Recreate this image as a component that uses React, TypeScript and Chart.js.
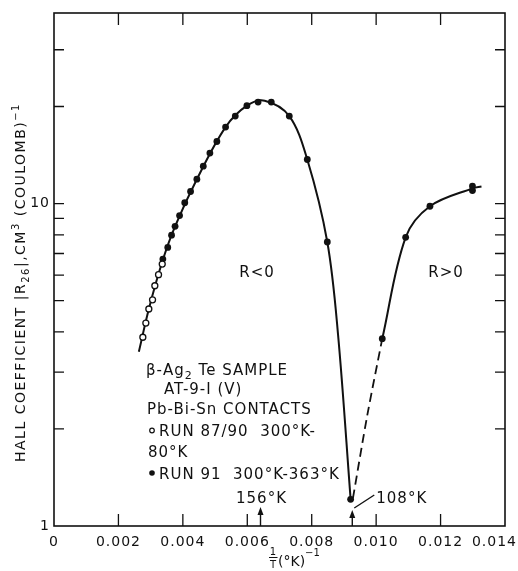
import React, { useEffect, useRef } from "react";
import { Chart, registerables } from "chart.js";

Chart.register(...registerables);

// ---- data (1/T in K^-1, |R| in cm^3/coulomb) ----
const openInvT = [0.002758, 0.002851, 0.002944, 0.003059, 0.00313, 0.003245, 0.00336];
const openR = [3.85, 4.26, 4.71, 5.03, 5.56, 6.02, 6.49];

const filledInvT = [
  0.003379, 0.003531, 0.003649, 0.003758, 0.003898, 0.004059, 0.004239, 0.004435,
  0.004634, 0.004839, 0.005056, 0.005326, 0.005627, 0.005988, 0.006335, 0.006745,
  0.007304, 0.007863, 0.008484, 0.009208, 0.01019, 0.010916, 0.01167, 0.01299, 0.01299,
];
const filledR = [
  6.73, 7.31, 7.98, 8.5, 9.18, 10.06, 10.9, 11.9,
  13.06, 14.34, 15.58, 17.27, 18.68, 20.12, 20.65, 20.65,
  18.68, 13.7, 7.6, 1.21, 3.81, 7.86, 9.81, 11.33, 10.98,
];

const curveNegInvT = [
  0.002634, 0.002944, 0.00336, 0.003758, 0.004435, 0.005326, 0.005988, 0.00654,
  0.007304, 0.007863, 0.008484, 0.008814, 0.009208,
];
const curveNegR = [
  3.47, 4.71, 6.6, 8.5, 11.9, 17.27, 20.12, 20.85,
  18.68, 13.7, 7.6, 3.96, 1.21,
];
const curvePosInvT = [0.01019, 0.010916, 0.01167, 0.01299, 0.01327];
const curvePosR = [3.81, 7.86, 9.81, 11.15, 11.3];
const dashInvT = [0.00928, 0.009727, 0.01019];
const dashR = [1.22, 2.21, 3.81];

// axes
const xTickValues = [0, 0.002, 0.004, 0.006, 0.008, 0.01, 0.012, 0.014];
const xInnerTickValues = [0.002, 0.004, 0.006, 0.008, 0.01, 0.012];
const yLabelValues = [1, 10];
const yInnerTickValues = [2, 3, 4, 5, 6, 7, 8, 9, 10, 20, 30];
const markedTemps = [156, 108];

const FONT = "'DejaVu Sans', 'Liberation Sans', sans-serif";
const INK = "#111";

const pts = (xs: number[], ys: number[]) => xs.map((x, i) => ({ x, y: ys[i] }));

type Seg = { t: string; size: number; dy?: number; bold?: boolean };

function drawRich(ctx: CanvasRenderingContext2D, x: number, y: number, segs: Seg[]) {
  let cx = x;
  for (const s of segs) {
    ctx.font = `${s.bold ? "bold " : ""}${s.size}px ${FONT}`;
    ctx.fillText(s.t, cx, y + (s.dy || 0));
    cx += ctx.measureText(s.t).width;
  }
  return cx;
}

function arrowUp(ctx: CanvasRenderingContext2D, x: number, yBase: number, yTip: number) {
  ctx.beginPath();
  ctx.moveTo(x, yBase);
  ctx.lineTo(x, yTip + 5);
  ctx.stroke();
  ctx.beginPath();
  ctx.moveTo(x, yTip);
  ctx.lineTo(x - 3, yTip + 8);
  ctx.lineTo(x + 3, yTip + 8);
  ctx.closePath();
  ctx.fill();
}

const decorPlugin = {
  id: "decor",
  beforeDraw(chart: any) {
    chart.ctx.letterSpacing = "1px";
    // keep the last x label inside the canvas, as in the original figure
    const items = chart.scales.x.getLabelItems();
    const last = items[items.length - 1];
    if (last) {
      last.options.textAlign = "right";
      last.options.translation = [chart.width - 1, last.options.translation[1]];
    }
  },
  afterDraw(chart: any) {
    const ctx: CanvasRenderingContext2D = chart.ctx;
    const a = chart.chartArea;
    const x = chart.scales.x;
    const y = chart.scales.y;
    ctx.save();
    ctx.strokeStyle = INK;
    ctx.fillStyle = INK;
    // frame
    ctx.lineWidth = 1.6;
    ctx.strokeRect(a.left, a.top, a.right - a.left, a.bottom - a.top);
    // inward ticks
    ctx.lineWidth = 1.3;
    ctx.beginPath();
    for (const v of yInnerTickValues) {
      const py = y.getPixelForValue(v);
      ctx.moveTo(a.left, py);
      ctx.lineTo(a.left + 10, py);
      ctx.moveTo(a.right - 10, py);
      ctx.lineTo(a.right, py);
    }
    for (const v of xInnerTickValues) {
      const px = x.getPixelForValue(v);
      ctx.moveTo(px, a.bottom);
      ctx.lineTo(px, a.bottom - 12);
      ctx.moveTo(px, a.top);
      ctx.lineTo(px, a.top + 12);
    }
    ctx.stroke();

    // region labels
    ctx.letterSpacing = "1px";
    ctx.textBaseline = "middle";
    ctx.textAlign = "center";
    ctx.font = `15px ${FONT}`;
    ctx.fillText("R<0", 257, 273);
    ctx.fillText("R>0", 446, 273);

    // sample legend block
    ctx.textAlign = "left";
    ctx.textBaseline = "alphabetic";
    const base = (c: number) => c + 5.5;
    drawRich(ctx, 146, base(369), [
      { t: "β-Ag", size: 15 },
      { t: "2", size: 11, dy: 4 },
      { t: " Te SAMPLE", size: 15 },
    ]);
    drawRich(ctx, 164, base(388), [{ t: "AT-9-I (V)", size: 15 }]);
    drawRich(ctx, 147, base(408), [{ t: "Pb-Bi-Sn CONTACTS", size: 15 }]);
    drawRich(ctx, 159, base(430.5), [{ t: "RUN 87/90  300°K-", size: 15 }]);
    drawRich(ctx, 148, base(451), [{ t: "80°K", size: 15 }]);
    drawRich(ctx, 159, base(473), [{ t: "RUN 91  300°K-363°K", size: 15 }]);
    ctx.lineWidth = 1.2;
    ctx.beginPath();
    ctx.arc(152, 430.5, 2.3, 0, Math.PI * 2);
    ctx.stroke();
    ctx.beginPath();
    ctx.arc(152, 473, 2.8, 0, Math.PI * 2);
    ctx.fill();

    // temperature markers
    ctx.lineWidth = 1.4;
    const p156 = x.getPixelForValue(1 / markedTemps[0]);
    const p108 = x.getPixelForValue(1 / markedTemps[1]);
    arrowUp(ctx, p156, a.bottom, a.bottom - 19);
    arrowUp(ctx, p108, a.bottom, a.bottom - 16);
    ctx.beginPath();
    ctx.moveTo(p108 + 2, a.bottom - 18);
    ctx.lineTo(p108 + 22, a.bottom - 31);
    ctx.stroke();
    ctx.font = `15px ${FONT}`;
    ctx.textAlign = "center";
    ctx.fillText(`${markedTemps[0]}°K`, p156 + 1, base(497));
    ctx.textAlign = "left";
    ctx.fillText(`${markedTemps[1]}°K`, p108 + 24, base(497));

    // x axis title: 1/T (°K)^-1
    ctx.letterSpacing = "0px";
    ctx.textAlign = "center";
    ctx.font = `10px ${FONT}`;
    ctx.fillText("1", 273, 555);
    ctx.fillText("T", 273, 568);
    ctx.lineWidth = 1;
    ctx.beginPath();
    ctx.moveTo(269, 557.5);
    ctx.lineTo(277.5, 557.5);
    ctx.stroke();
    ctx.textAlign = "left";
    drawRich(ctx, 278, 566, [
      { t: "(°K)", size: 14 },
      { t: "−1", size: 10, dy: -10 },
    ]);

    // y axis title (rotated)
    ctx.save();
    ctx.letterSpacing = "1.5px";
    ctx.translate(20, 462);
    ctx.rotate(-Math.PI / 2);
    drawRich(ctx, 0, 5, [
      { t: "HALL COEFFICIENT |R", size: 14 },
      { t: "26", size: 10, dy: 4 },
      { t: "|,CM", size: 14 },
      { t: "3", size: 10, dy: -6 },
      { t: " (COULOMB)", size: 14 },
      { t: "−1", size: 10, dy: -6 },
    ]);
    ctx.restore();

    ctx.restore();
    ctx.letterSpacing = "0px";
  },
};

export default function App() {
  const ref = useRef<HTMLCanvasElement | null>(null);
  useEffect(() => {
    if (!ref.current) return;
    const chart = new Chart(ref.current, {
      type: "scatter",
      data: {
        datasets: [
          {
            label: "RUN 87/90",
            data: pts(openInvT, openR),
            showLine: false,
            pointRadius: 3,
            pointBackgroundColor: "#fff",
            pointBorderColor: INK,
            pointBorderWidth: 1.3,
          },
          {
            label: "RUN 91",
            data: pts(filledInvT, filledR),
            showLine: false,
            pointRadius: 3.4,
            pointBackgroundColor: INK,
            pointBorderColor: INK,
            pointBorderWidth: 0,
          },
          {
            label: "R<0 fit",
            data: pts(curveNegInvT, curveNegR),
            showLine: true,
            pointRadius: 0,
            borderColor: INK,
            borderWidth: 2,
            tension: 0.35,
          },
          {
            label: "R>0 fit",
            data: pts(curvePosInvT, curvePosR),
            showLine: true,
            pointRadius: 0,
            borderColor: INK,
            borderWidth: 2,
            tension: 0.35,
          },
          {
            label: "extrapolation",
            data: pts(dashInvT, dashR),
            showLine: true,
            pointRadius: 0,
            borderColor: INK,
            borderWidth: 1.8,
            borderDash: [9, 5],
            tension: 0.3,
          },
        ],
      },
      options: {
        animation: false,
        responsive: false,
        devicePixelRatio: 1,
        layout: { padding: { top: 13, right: 13, left: 0, bottom: 0 } },
        plugins: { legend: { display: false }, tooltip: { enabled: false } },
        scales: {
          x: {
            type: "linear",
            min: 0,
            max: 0.014,
            grid: { display: false, drawTicks: false },
            border: { display: false },
            afterBuildTicks: (s: any) => {
              s.ticks = xTickValues.map((v) => ({ value: v }));
            },
            afterFit: (s: any) => {
              s.height = 45;
              s.paddingLeft = 0;
              s.paddingRight = 0;
            },
            ticks: {
              padding: 8,
              maxRotation: 0,
              autoSkip: false,
              color: INK,
              font: { family: FONT, size: 14 },
              callback: (v: any) => (v === 0 ? "0" : Number(v).toFixed(3)),
            },
          },
          y: {
            type: "logarithmic",
            min: 1,
            max: 39,
            grid: { display: false, drawTicks: false },
            border: { display: false },
            afterBuildTicks: (s: any) => {
              s.ticks = yLabelValues.map((v) => ({ value: v }));
            },
            afterFit: (s: any) => {
              s.width = 54;
              s.paddingTop = 0;
              s.paddingBottom = 0;
            },
            ticks: {
              padding: 4,
              color: INK,
              font: { family: FONT, size: 14 },
              callback: (v: any) => String(v),
            },
          },
        },
      },
      plugins: [decorPlugin],
    } as any);
    return () => chart.destroy();
  }, []);

  return (
    <div style={{ position: "absolute", left: 0, top: 0, width: 518, height: 571, background: "#fff" }}>
      <canvas ref={ref} width={518} height={571} style={{ width: 518, height: 571, display: "block" }} />
    </div>
  );
}
